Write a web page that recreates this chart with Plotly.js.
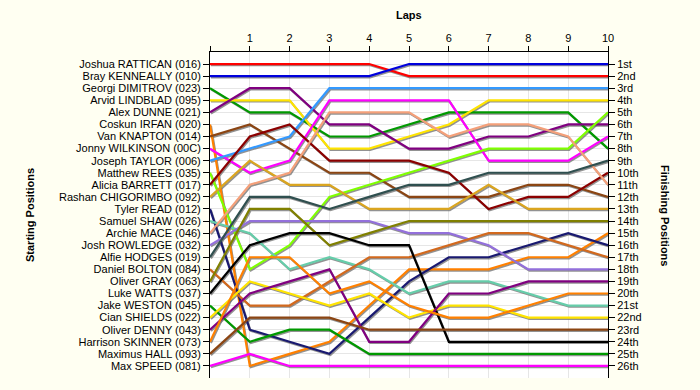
<!DOCTYPE html>
<html>
<head>
<meta charset="utf-8">
<script src="https://cdn.plot.ly/plotly-3.0.1.min.js"></script>
<style>
  html, body { margin: 0; padding: 0; background: #FFFFF2; }
  #chart { width: 700px; height: 390px; }
</style>
</head>
<body>
<div id="chart"></div>
<script>
const laps = [0, 1, 2, 3, 4, 5, 6, 7, 8, 9, 10];
const lapLabels = ['', '1', '2', '3', '4', '5', '6', '7', '8', '9', '10'];

const drivers = [
  'Joshua RATTICAN (016)', 'Bray KENNEALLY (010)', 'Georgi DIMITROV (023)', 'Arvid LINDBLAD (095)',
  'Alex DUNNE (021)', 'Coskun IRFAN (020)', 'Van KNAPTON (014)', 'Jonny WILKINSON (00C)',
  'Joseph TAYLOR (006)', 'Matthew REES (035)', 'Alicia BARRETT (017)', 'Rashan CHIGORIMBO (092)',
  'Tyler READ (012)', 'Samuel SHAW (026)', 'Archie MACE (046)', 'Josh ROWLEDGE (032)',
  'Alfie HODGES (019)', 'Daniel BOLTON (084)', 'Oliver GRAY (063)', 'Luke WATTS (037)',
  'Jake WESTON (045)', 'Cian SHIELDS (022)', 'Oliver DENNY (043)', 'Harrison SKINNER (073)',
  'Maximus HALL (093)', 'Max SPEED (081)'
];

const finishLabels = [
  '1st', '2nd', '3rd', '4th', '5th', '6th', '7th', '8th', '9th', '10th', '11th', '12th', '13th',
  '14th', '15th', '16th', '17th', '18th', '19th', '20th', '21st', '22nd', '23rd', '24th', '25th', '26th'
];

const positionTicks = [1,2,3,4,5,6,7,8,9,10,11,12,13,14,15,16,17,18,19,20,21,22,23,24,25,26];

// position of each driver after each lap (lap 0 = grid)
const positions = [
  [1, 1, 1, 1, 1, 2, 2, 2, 2, 2, 2],
  [2, 2, 2, 2, 2, 1, 1, 1, 1, 1, 1],
  [3, 5, 5, 7, 7, 6, 5, 5, 5, 5, 8],
  [4, 4, 4, 8, 8, 7, 6, 4, 4, 4, 4],
  [5, 3, 3, 6, 6, 8, 8, 7, 7, 6, 6],
  [6, 26, 25, 24, 21, 18, 18, 18, 17, 17, 15],
  [7, 6, 8, 10, 10, 12, 12, 12, 11, 11, 12],
  [8, 10, 9, 4, 4, 4, 4, 9, 9, 9, 7],
  [9, 8, 7, 3, 3, 3, 3, 3, 3, 3, 3],
  [10, 18, 16, 12, 11, 10, 9, 8, 8, 8, 5],
  [11, 7, 6, 9, 9, 9, 10, 13, 12, 12, 10],
  [12, 9, 11, 11, 13, 13, 13, 11, 13, 13, 13],
  [13, 23, 24, 25, 22, 19, 17, 17, 16, 15, 16],
  [14, 15, 18, 17, 18, 20, 19, 19, 20, 21, 21],
  [15, 11, 10, 5, 5, 5, 7, 6, 6, 7, 11],
  [16, 14, 14, 14, 14, 15, 15, 16, 18, 18, 18],
  [17, 12, 12, 13, 12, 11, 11, 10, 10, 10, 9],
  [18, 21, 21, 19, 17, 17, 16, 15, 15, 16, 17],
  [19, 13, 13, 16, 15, 14, 14, 14, 14, 14, 14],
  [20, 16, 15, 15, 16, 16, 24, 24, 24, 24, 24],
  [21, 24, 23, 23, 25, 25, 25, 25, 25, 25, 25],
  [22, 19, 20, 21, 20, 22, 21, 21, 22, 22, 22],
  [23, 20, 19, 18, 24, 24, 20, 20, 19, 19, 19],
  [24, 17, 17, 20, 19, 21, 22, 22, 21, 20, 20],
  [25, 22, 22, 22, 23, 23, 23, 23, 23, 23, 23],
  [26, 25, 26, 26, 26, 26, 26, 26, 26, 26, 26]
];

const colors = [
  '#FF0000', '#0000DD', '#009900', '#FFE400', '#800080', '#FF8000', '#8B4513', '#FF00FF',
  '#3399FF', '#7FFF00', '#8B0000', '#DAA520', '#191970', '#66CDAA', '#F4A07A', '#9370DB',
  '#2F4F4F', '#D2691E', '#808000', '#000000', '#009900', '#FFE400', '#800080', '#FF8000',
  '#8B4513', '#FF00FF'
];

const fontFam = '"Liberation Sans", Arial, sans-serif';
const traces = [];

// drop shadows (drawn on the underlying, slightly shifted subplot)
positions.forEach((p, i) => {
  traces.push({
    x: laps, y: p, xaxis: 'x', yaxis: 'y', mode: 'lines',
    line: { color: 'rgba(110,110,110,0.75)', width: 2 },
    hoverinfo: 'skip', showlegend: false
  });
});
// the lines themselves
positions.forEach((p, i) => {
  traces.push({
    x: laps, y: p, xaxis: 'x2', yaxis: 'y2', mode: 'lines', name: drivers[i],
    line: { color: colors[i], width: 2.2 },
    showlegend: false
  });
});
// anchor trace for the right-hand axis
traces.push({ x: [null], y: [null], xaxis: 'x2', yaxis: 'y3', mode: 'lines', hoverinfo: 'skip', showlegend: false });

const plotW = 398, plotH = 326;
const dxUnits = 1 / (plotW / 10);
const dyUnits = 1.3 / (plotH / 27);

const layout = {
  width: 700, height: 390,
  margin: { l: 210, r: 92, t: 52, b: 12 },
  paper_bgcolor: '#FFFFF2',
  plot_bgcolor: '#FFFFFF',
  showlegend: false,
  font: { family: fontFam, size: 11, color: '#000000' },
  xaxis: { range: [0 - dxUnits, 10 - dxUnits], visible: false, fixedrange: true },
  yaxis: { range: [27 - dyUnits, 0 - dyUnits], visible: false, fixedrange: true },
  xaxis2: {
    overlaying: 'x', side: 'top', anchor: 'y2', range: [0, 10],
    tickmode: 'array', tickvals: laps, ticktext: lapLabels,
    ticks: 'outside', ticklen: 5, tickcolor: '#000', tickwidth: 1,
    showline: true, linecolor: '#000', linewidth: 1,
    showgrid: true, gridcolor: '#E6E6E6', gridwidth: 1, zeroline: false,
    tickfont: { family: fontFam, size: 11, color: '#000' }
  },
  yaxis2: {
    overlaying: 'y', side: 'left', anchor: 'x2', range: [27, 0],
    tickmode: 'array', tickvals: positionTicks, ticktext: drivers,
    ticks: 'outside', ticklen: 6, tickcolor: '#000', tickwidth: 1,
    showline: true, linecolor: '#000', linewidth: 1,
    showgrid: true, gridcolor: '#E6E6E6', gridwidth: 1, zeroline: false,
    tickfont: { family: fontFam, size: 11, color: '#000' }
  },
  yaxis3: {
    overlaying: 'y', side: 'right', anchor: 'x2', range: [27, 0],
    tickmode: 'array', tickvals: positionTicks, ticktext: finishLabels,
    ticks: 'outside', ticklen: 6, tickcolor: '#000', tickwidth: 1,
    showline: true, linecolor: '#000', linewidth: 1,
    showgrid: false, zeroline: false,
    tickfont: { family: fontFam, size: 11, color: '#000' }
  },
  annotations: [
    { text: '<b>Laps</b>', xref: 'paper', yref: 'paper', x: 0.5, y: 1 + 37 / plotH,
      xanchor: 'center', yanchor: 'middle', showarrow: false,
      font: { family: fontFam, size: 11, color: '#000' } },
    { text: '<b>Starting Positions</b>', xref: 'paper', yref: 'paper', x: (30 - 210) / plotW, y: 0.5,
      xanchor: 'center', yanchor: 'middle', textangle: -90, showarrow: false,
      font: { family: fontFam, size: 11, color: '#000' } },
    { text: '<b>Finishing Positions</b>', xref: 'paper', yref: 'paper', x: (665 - 210) / plotW, y: 0.5,
      xanchor: 'center', yanchor: 'middle', textangle: 90, showarrow: false,
      font: { family: fontFam, size: 11, color: '#000' } }
  ]
};

Plotly.newPlot('chart', traces, layout, { staticPlot: true, displayModeBar: false });
</script>
</body>
</html>
